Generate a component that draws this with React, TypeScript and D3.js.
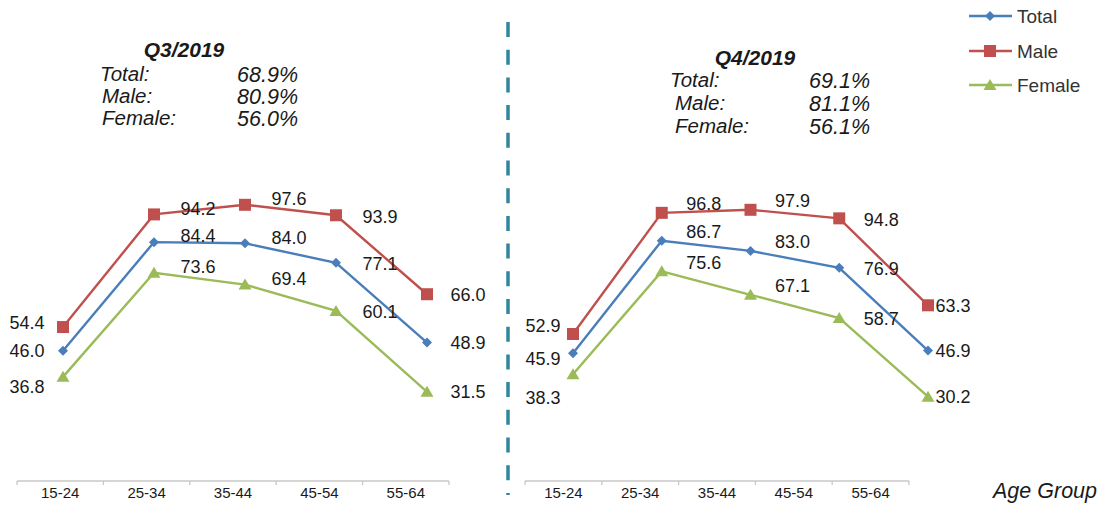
import React from "react";
import * as d3 from "d3";

// age groups on the x axis
const ageGroups = ["15-24", "25-34", "35-44", "45-54", "55-64"];

// Q3/2019 participation rates by age group
const q3Total = [46.0, 84.4, 84.0, 77.1, 48.9];
const q3Male = [54.4, 94.2, 97.6, 93.9, 66.0];
const q3Female = [36.8, 73.6, 69.4, 60.1, 31.5];

// Q4/2019
const q4Total = [45.9, 86.7, 83.0, 76.9, 46.9];
const q4Male = [52.9, 96.8, 97.9, 94.8, 63.3];
const q4Female = [38.3, 75.6, 67.1, 58.7, 30.2];

// overall rates shown in the text box (Total, Male, Female)
const seriesNames = ["Total", "Male", "Female"];
const q3Rates = [68.9, 80.9, 56.0];
const q4Rates = [69.1, 81.1, 56.1];

const colors = ["#4a7ebb", "#c0504d", "#9bbb59"];
const FONT = "'Liberation Sans', Arial, sans-serif";
const TEXT = "#1a1a1a";

interface Panel {
  title: string;
  series: number[][];
  rates: number[];
  axis: [number, number];
  points: [number, number];
  yRange: [number, number];
  box: { titleX: number; titleY: number; labelX: number[]; valueX: number; rowY: number[] };
  firstDx: number;
  firstDy: number[];
  midDx: number;
  midDy: number[];
  lastDx: number;
}

const panels: Panel[] = [
  {
    title: "Q3/2019",
    series: [q3Total, q3Male, q3Female],
    rates: q3Rates,
    axis: [17, 449],
    points: [63, 427],
    yRange: [481, 198],
    box: { titleX: 184, titleY: 50, labelX: [100, 102, 102], valueX: 298, rowY: [74, 96, 118] },
    firstDx: -36,
    firstDy: [0, -4, 10],
    midDx: 44,
    midDy: [0, -6, -6, 1],
    lastDx: 41,
  },
  {
    title: "Q4/2019",
    series: [q4Total, q4Male, q4Female],
    rates: q4Rates,
    axis: [525, 909],
    points: [573, 928],
    yRange: [480, 204],
    box: { titleX: 755, titleY: 58, labelX: [670, 675, 675], valueX: 870, rowY: [80, 103, 126] },
    firstDx: -30,
    firstDy: [5, -8, 23],
    midDx: 42,
    midDy: [0, -9, -9, 1],
    lastDx: 25,
  },
];

const Marker = ({ kind, x, y, color }: { kind: number; x: number; y: number; color: string }) => {
  if (kind === 0)
    return <path d={`M${x},${y - 5}L${x + 5},${y}L${x},${y + 5}L${x - 5},${y}Z`} fill={color} />;
  if (kind === 1) return <rect x={x - 6} y={y - 6} width={12} height={12} fill={color} />;
  return <path d={`M${x},${y - 6}L${x + 6.5},${y + 5}L${x - 6.5},${y + 5}Z`} fill={color} />;
};

const PanelChart = ({ p }: { p: Panel }) => {
  const band = d3.scaleBand<string>().domain(ageGroups).range(p.axis);
  const x = d3.scalePoint<string>().domain(ageGroups).range(p.points);
  const y = d3.scaleLinear().domain([0, 100]).range(p.yRange);
  const line = d3
    .line<number>()
    .x((_, i) => x(ageGroups[i]) as number)
    .y((d) => y(d));
  const axisY = 481;
  const ticks = [...ageGroups.map((g) => band(g) as number), p.axis[1]];

  return (
    <g>
      {/* axis */}
      <line x1={p.axis[0]} x2={p.axis[1]} y1={axisY} y2={axisY} stroke="#c8c8c8" strokeWidth={1.3} />
      {ticks.map((t, i) => (
        <line key={i} x1={t} x2={t} y1={axisY} y2={axisY + 4} stroke="#c8c8c8" strokeWidth={1.3} />
      ))}
      {ageGroups.map((g) => (
        <text
          key={g}
          x={(band(g) as number) + band.bandwidth() / 2}
          y={498}
          textAnchor="middle"
          fontSize={15}
          fontFamily={FONT}
          fill={TEXT}
        >
          {g}
        </text>
      ))}

      {/* lines and markers */}
      {p.series.map((s, k) => (
        <g key={k}>
          <path d={line(s) as string} fill="none" stroke={colors[k]} strokeWidth={2.4} />
          {s.map((v, i) => (
            <Marker key={i} kind={k} x={x(ageGroups[i]) as number} y={y(v)} color={colors[k]} />
          ))}
        </g>
      ))}

      {/* value labels */}
      {p.series.map((s, k) =>
        s.map((v, i) => {
          const px = x(ageGroups[i]) as number;
          let dx = p.midDx;
          let dy = p.midDy[i] ?? 0;
          if (i === 0) {
            dx = p.firstDx;
            dy = p.firstDy[k];
          } else if (i === s.length - 1) {
            dx = p.lastDx;
            dy = 0;
          }
          return (
            <text
              key={`${k}-${i}`}
              x={px + dx}
              y={y(v) + dy}
              dy="0.35em"
              textAnchor="middle"
              fontSize={18}
              fontFamily={FONT}
              fill={TEXT}
            >
              {v.toFixed(1)}
            </text>
          );
        })
      )}

      {/* summary box */}
      <text
        x={p.box.titleX}
        y={p.box.titleY}
        dy="0.35em"
        textAnchor="middle"
        fontSize={21}
        fontWeight="bold"
        fontStyle="italic"
        fontFamily={FONT}
        fill={TEXT}
      >
        {p.title}
      </text>
      {seriesNames.map((n, k) => (
        <g key={n}>
          <text
            x={p.box.labelX[k]}
            y={p.box.rowY[k]}
            dy="0.35em"
            fontSize={20.5}
            fontStyle="italic"
            fontFamily={FONT}
            fill={TEXT}
          >
            {n}:
          </text>
          <text
            x={p.box.valueX}
            y={p.box.rowY[k]}
            dy="0.35em"
            textAnchor="end"
            fontSize={21.5}
            fontStyle="italic"
            fontFamily={FONT}
            fill={TEXT}
          >
            {p.rates[k].toFixed(1)}%
          </text>
        </g>
      ))}
    </g>
  );
};

export default function App() {
  const legendY = [16, 51, 85];
  return (
    <svg width={1100} height={508} style={{ position: "absolute", left: 0, top: 0, background: "#fff" }}>
      {panels.map((p) => (
        <PanelChart key={p.title} p={p} />
      ))}

      {/* divider */}
      <line
        x1={508}
        x2={508}
        y1={22}
        y2={495}
        stroke="#31859c"
        strokeWidth={3.5}
        strokeDasharray="15,12.7"
      />

      {/* legend */}
      {seriesNames.map((n, k) => (
        <g key={n}>
          <line x1={969} x2={1012} y1={legendY[k]} y2={legendY[k]} stroke={colors[k]} strokeWidth={2.4} />
          <Marker kind={k} x={990} y={legendY[k]} color={colors[k]} />
          <text x={1017} y={legendY[k]} dy="0.35em" fontSize={19} fontFamily={FONT} fill="#333">
            {n}
          </text>
        </g>
      ))}

      <text x={1097} y={490} dy="0.35em" textAnchor="end" fontSize={21.5} fontStyle="italic" fontFamily={FONT} fill={TEXT}>
        Age Group
      </text>
    </svg>
  );
}
